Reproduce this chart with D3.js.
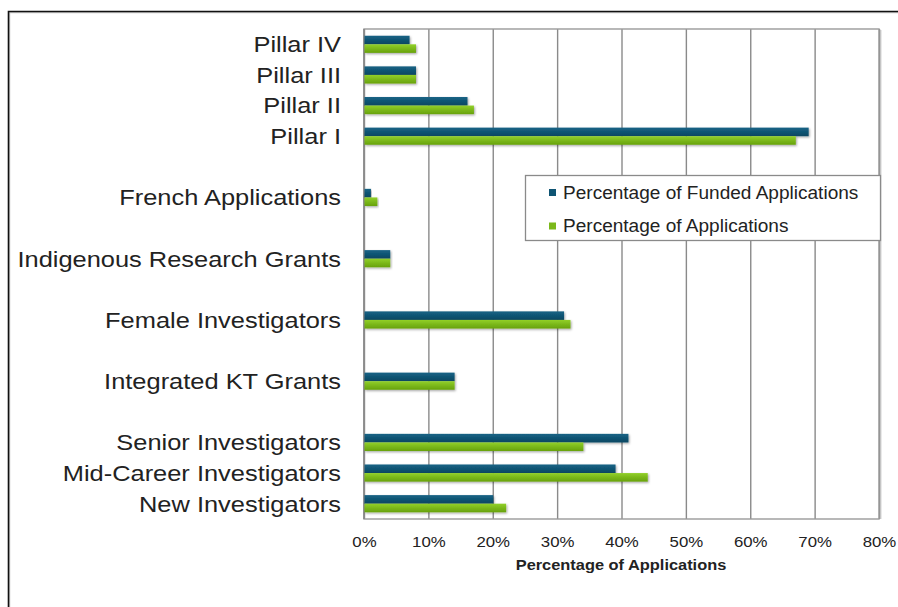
<!DOCTYPE html>
<html>
<head>
<meta charset="utf-8">
<script src="https://cdn.jsdelivr.net/npm/d3@7"></script>
<style>
  body { margin: 0; background: #fff; }
  text { font-family: "Liberation Sans", Arial, sans-serif; fill: #222; }
</style>
</head>
<body>
<div id="chart"></div>
<script>
"use strict";

// rows from top to bottom; "" marks an empty slot between groups
const categories = ["Pillar IV", "Pillar III", "Pillar II", "Pillar I", "",
    "French Applications", "", "Indigenous Research Grants", "",
    "Female Investigators", "", "Integrated KT Grants", "",
    "Senior Investigators", "Mid-Career Investigators", "New Investigators"];
const fundedPct = [7, 8, 16, 69, null, 1, null, 4, null, 31, null, 14, null, 41, 39, 20];
const appsPct = [8, 8, 17, 67, null, 2, null, 4, null, 32, null, 14, null, 34, 44, 22];
const seriesNames = ["Percentage of Funded Applications", "Percentage of Applications"];
const xTicks = [0, 10, 20, 30, 40, 50, 60, 70, 80];

const msm = {
    width: 898,
    height: 607,
    left: 364,
    right: 879,
    top: 29,
    bottom: 519
}
const colors = ["#0e5473", "#7bb81a"];
const stretch = 1.12; // the source text is a little wider than Arial

let svg = d3.select("#chart").append("svg")
    .attr("width", msm.width)
    .attr("height", msm.height);

let defs = svg.append("defs");
let shadow = defs.append("filter").attr("id", "shadow")
    .attr("x", "-5%").attr("y", "-30%").attr("width", "115%").attr("height", "180%");
shadow.append("feDropShadow")
    .attr("dx", 1).attr("dy", 1.2).attr("stdDeviation", 0.9)
    .attr("flood-color", "#000").attr("flood-opacity", 0.35);

// light top-to-bottom shading on the bars
const shades = [["#1b6486", "#0e5473", "#0a4862"], ["#92d02a", "#7bb81a", "#68a20c"]];
shades.forEach((s, i) => {
    let g = defs.append("linearGradient").attr("id", "grad" + i)
        .attr("x1", 0).attr("y1", 0).attr("x2", 0).attr("y2", 1);
    g.append("stop").attr("offset", "0%").attr("stop-color", s[0]);
    g.append("stop").attr("offset", "50%").attr("stop-color", s[1]);
    g.append("stop").attr("offset", "100%").attr("stop-color", s[2]);
});

// outer frame (only top and left edges fall inside the picture)
svg.append("path")
    .attr("d", "M9.5,607 V12.5 H898")
    .attr("fill", "none").attr("stroke", "#c8c8c8").attr("stroke-width", 1.5);
svg.append("path")
    .attr("d", "M8.5,607 V11.5 H898")
    .attr("fill", "none").attr("stroke", "#111").attr("stroke-width", 1.6);

// scales
let xScale = d3.scaleLinear()
    .domain([0, 80])
    .range([msm.left, msm.right]);

let yScale = d3.scaleBand()
    .domain(d3.range(categories.length))
    .range([msm.top, msm.bottom])
    .paddingInner(0.44)
    .paddingOuter(0.22);

let subScale = d3.scaleBand()
    .domain([0, 1])
    .range([0, yScale.bandwidth()]);

// plot frame shadow on the right
svg.append("line")
    .attr("x1", msm.right + 1.5).attr("x2", msm.right + 1.5)
    .attr("y1", msm.top + 1).attr("y2", msm.bottom)
    .attr("stroke", "#d4d4d4").attr("stroke-width", 2);

// vertical gridlines through the x axis
let xAxis = d3.axisBottom(xScale)
    .tickValues(xTicks)
    .tickSize(-(msm.bottom - msm.top))
    .tickFormat(d => d + "%");
let xg = svg.append("g")
    .attr("transform", "translate(0," + msm.bottom + ")")
    .call(xAxis);
xg.select(".domain").remove();
xg.selectAll(".tick line")
    .attr("stroke", "#8a8a8a").attr("stroke-width", 1.4);
xg.selectAll(".tick text")
    .attr("y", 0).attr("dy", 0)
    .attr("transform", "translate(0,27.5) scale(" + stretch + ",1)")
    .style("font-size", "15px")
    .style("font-family", "'Liberation Sans', Arial, sans-serif")
    .attr("fill", "#333");

// frame edges
svg.append("rect")
    .attr("x", msm.left).attr("y", msm.top)
    .attr("width", msm.right - msm.left).attr("height", msm.bottom - msm.top)
    .attr("fill", "none").attr("stroke", "#9a9a9a").attr("stroke-width", 1.4);
svg.append("line")
    .attr("x1", msm.left).attr("x2", msm.left)
    .attr("y1", msm.top).attr("y2", msm.bottom)
    .attr("stroke", "#8a8a8a").attr("stroke-width", 1.6);

// bars
const series = [fundedPct, appsPct];
series.forEach((vals, si) => {
    svg.append("g").selectAll("rect")
        .data(vals.map((v, i) => ({ i: i, v: v })).filter(d => d.v != null))
        .enter()
        .append("rect")
        .attr("x", xScale(0) + 0.5)
        .attr("y", d => yScale(d.i) + subScale(si))
        .attr("width", d => xScale(d.v) - xScale(0))
        .attr("height", subScale.bandwidth())
        .attr("fill", "url(#grad" + si + ")")
        .attr("filter", "url(#shadow)");
});

// category labels
svg.append("g").selectAll("text")
    .data(categories.map((c, i) => ({ i: i, c: c })).filter(d => d.c !== ""))
    .enter()
    .append("text")
    .attr("transform", d => "translate(341," + (yScale(d.i) + yScale.bandwidth() / 2 + 7.9) + ") scale(1.13,1)")
    .attr("text-anchor", "end")
    .style("font-size", "22.5px")
    .text(d => d.c);

// x axis title
svg.append("text")
    .attr("transform", "translate(621,569.5) scale(1.13,1)")
    .attr("text-anchor", "middle")
    .style("font-size", "14.5px")
    .style("font-weight", "bold")
    .text("Percentage of Applications");

// legend
let legend = svg.append("g");
legend.append("rect")
    .attr("x", 525.5).attr("y", 175.5)
    .attr("width", 355).attr("height", 65)
    .attr("fill", "#fff").attr("stroke", "#8a8a8a").attr("stroke-width", 1.3);
seriesNames.forEach((name, i) => {
    let cy = 192.5 + i * 33.5;
    legend.append("rect")
        .attr("x", 549).attr("y", cy - 3.5)
        .attr("width", 7).attr("height", 7)
        .attr("fill", colors[i]);
    legend.append("text")
        .attr("transform", "translate(563," + (cy + 6.3) + ") scale(1.03,1)")
        .style("font-size", "18.5px")
        .text(name);
});
</script>
</body>
</html>
